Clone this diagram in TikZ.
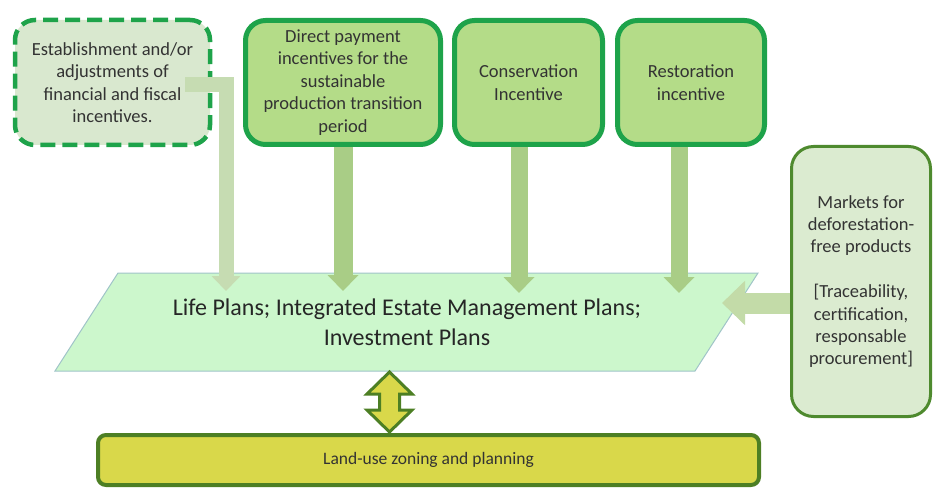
\documentclass[tikz,border=0pt]{standalone}
\usepackage{fontspec}
\setmainfont{Carlito}
\usetikzlibrary{arrows.meta,calc}
\definecolor{boxgreen}{HTML}{B4DC88}
\definecolor{boxborder}{HTML}{1EA34A}
\definecolor{paleface}{HTML}{D9E8CF}
\definecolor{mktface}{HTML}{DBEBD0}
\definecolor{mktborder}{HTML}{4E8A2E}
\definecolor{parface}{HTML}{CCF7CC}
\definecolor{parborder}{HTML}{A0C4C8}
\definecolor{arrgreen}{HTML}{A9CD86}
\definecolor{arrpale}{HTML}{C6DCB2}
\definecolor{arrmkt}{HTML}{C3DBA8}
\definecolor{landface}{HTML}{D9D84A}
\definecolor{landborder}{HTML}{4D7F24}
\definecolor{txt}{HTML}{333333}
\tikzset{
  incbox/.style={draw=boxborder, fill=boxgreen, line width=5pt, rounded corners=20pt,
    align=center, text=txt, font=\fontsize{18.5}{22.5}\selectfont, inner sep=0pt},
  finbox/.style={incbox, fill=paleface, line width=4.5pt, dash pattern=on 15pt off 7pt},
  mktbox/.style={draw=mktborder, fill=mktface, line width=3pt, rounded corners=22pt,
    align=center, text=txt, font=\fontsize{18.5}{22.4}\selectfont, inner sep=0pt},
  landbox/.style={draw=landborder, fill=landface, line width=4pt, rounded corners=8pt,
    align=center, text=txt, font=\fontsize{17.5}{20}\selectfont, inner sep=0pt},
  downarrow/.style={draw=arrgreen, line width=17pt,
    -{Triangle[width=30pt,length=16pt]}},
}
\begin{document}
\begin{tikzpicture}[x=1pt,y=-1pt]
\useasboundingbox (0,0) rectangle (933,489);
% parallelogram
\coordinate (p1) at (118,273);
\coordinate (p2) at (758,273);
\coordinate (p3) at (695,371);
\coordinate (p4) at (55,371);
\filldraw[fill=parface, draw=parborder, line width=1pt] (p1) -- (p2) -- (p3) -- (p4) -- cycle;
\node[align=center, text=black!85, font=\fontsize{24}{30}\selectfont] (par) at (407,322)
  {Life Plans; Integrated Estate Management Plans;\\Investment Plans};
% boxes
\node[finbox, minimum width=195pt, minimum height=125pt] (b1) at (112.5,82.5)
  {Establishment and/or\\adjustments of\\financial and fiscal\\incentives.};
\node[incbox, minimum width=195pt, minimum height=124pt] (b2) at (343,82.5)
  {Direct payment\\incentives for the\\sustainable\\production transition\\period};
\node[incbox, minimum width=148pt, minimum height=124pt] (b3) at (528.5,82.5)
  {Conservation\\Incentive};
\node[incbox, minimum width=147pt, minimum height=124pt] (b4) at (691,82.5)
  {Restoration\\incentive};
\node[mktbox, minimum width=139pt, minimum height=270pt] (b5) at (861,281.5)
  {Markets for\\deforestation-\\free products\\[22.4pt][Traceability,\\certification,\\responsable\\procurement]};
\node[landbox, minimum width=661pt, minimum height=50pt] (land) at (428.5,460)
  {Land-use zoning and planning};
% arrows
\coordinate (a1s) at (185,85);
\coordinate (a1k) at (226,85);
\coordinate (a1e) at (226,291);
\draw[draw=arrpale, line width=15pt, line join=miter,
  -{Triangle[width=28pt,length=15pt]}] (a1s) -- (a1k) -- (a1e);
\coordinate (a2e) at (343,291);
\draw[downarrow, line width=19pt] (b2.south) -- (a2e);
\coordinate (a3s) at (519,147);
\coordinate (a3e) at (519,293);
\draw[downarrow] (a3s) -- (a3e);
\coordinate (a4s) at (679,147);
\coordinate (a4e) at (679,293);
\draw[downarrow] (a4s) -- (a4e);
\coordinate (a5s) at (790,303);
\coordinate (a5e) at (722,303);
\draw[draw=arrmkt, line width=21pt, -{Triangle[width=43pt,length=23pt]}] (a5s) -- (a5e);
% double arrow
\coordinate (dt) at (389.5,372);
\coordinate (db) at (389.5,432);
\filldraw[fill=landface, draw=landborder, line width=3pt, line join=miter]
  (dt) -- ++(22.5,22) -- ++(-12.5,0) -- ++(0,16) -- ++(12.5,0) -- (db)
  -- ++(-22.5,-22) -- ++(12.5,0) -- ++(0,-16) -- ++(-12.5,0) -- cycle;
\end{tikzpicture}
\end{document}
